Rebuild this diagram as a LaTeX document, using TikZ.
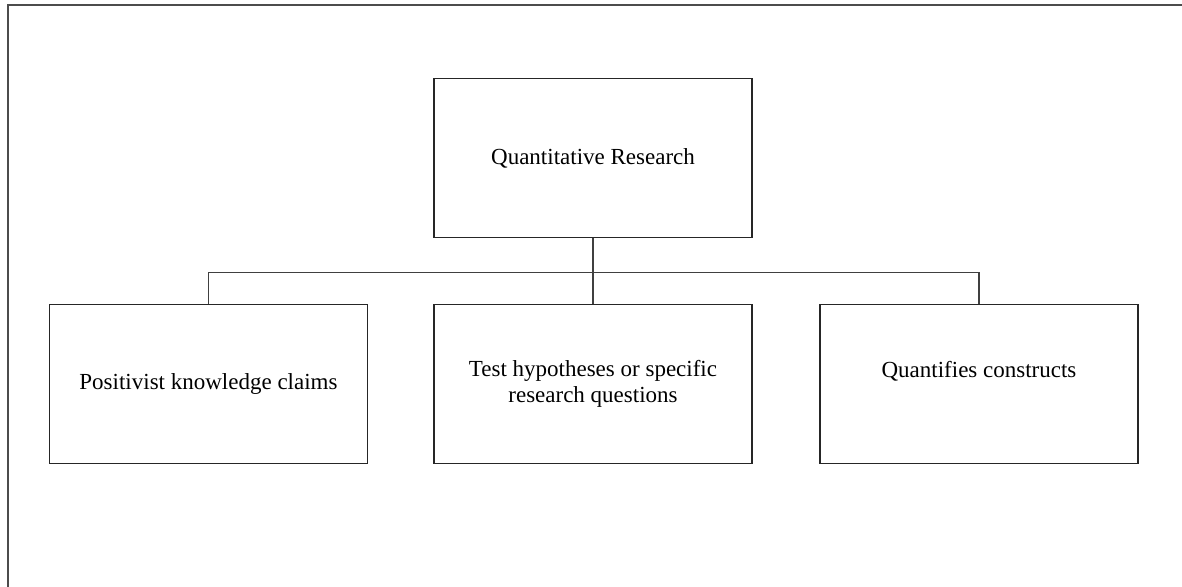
\documentclass[tikz,border=0pt]{standalone}
\usepackage{fontspec}
\setmainfont{Liberation Serif}
\usepackage{tikz}
\tikzset{box/.style={draw=black!85, line width=1.5pt, minimum width=318pt, minimum height=159pt, align=center, inner sep=0pt, font=\fontsize{23}{25.5}\selectfont}}

\begin{document}
\begin{tikzpicture}[x=1pt,y=-1pt]
\useasboundingbox (0,0) rectangle (1182,586);
\draw[black!70, line width=2pt] (8,590) -- (8,5) -- (1185,5);
\node[box] (qr) at (593,158) {Quantitative Research};
\node[box] (pos) at (208.5,384) {Positivist knowledge claims};
\node[box] (test) at (593,384) {Test hypotheses or specific\\research questions};
\node[box, text depth=30pt] (quant) at (979,384) {Quantifies constructs};
\draw[black!75, line width=1.3pt] (qr.south) -- ++(0,34) coordinate (hub);
\draw[black!75, line width=1.3pt] (pos.north) |- (hub) -| (quant.north);
\draw[black!75, line width=1.3pt] (hub) -- (test.north);
\end{tikzpicture}
\end{document}
